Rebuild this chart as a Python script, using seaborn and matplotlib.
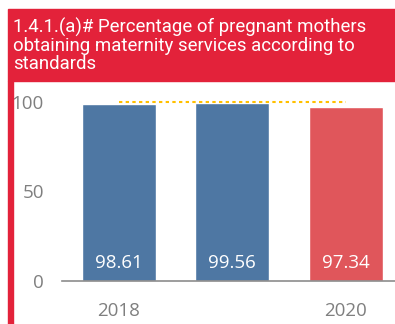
import matplotlib
matplotlib.use("Agg")
import matplotlib.pyplot as plt
from matplotlib.patches import Rectangle
import seaborn as sns
import pandas as pd

# Indicator data
years = ["2018", "2019", "2020"]
values = [98.61, 99.56, 97.34]
target = 100
year_labels = ["2018", "", "2020"]
bar_colors = ["#4E77A3", "#4E77A3", "#E0565B"]
y_ticks = [0, 50, 100]

title = "1.4.1.(a)# Percentage of pregnant mothers\nobtaining maternity services according to\nstandards"

sns.set_theme(style="white")
plt.rcParams["font.family"] = ["Open Sans", "DejaVu Sans"]

W, H = 395, 324
fig = plt.figure(figsize=(W / 100, H / 100), dpi=100)
fig.patch.set_facecolor("white")

RED = "#E3223A"
# header band and left border
fig.patches.append(Rectangle((8 / W, (H - 81) / H), (W - 8) / W, 72 / H,
                             transform=fig.transFigure, color=RED, zorder=0))
fig.patches.append(Rectangle((8 / W, 0), 5 / W, (H - 81) / H,
                             transform=fig.transFigure, color=RED, zorder=0))
fig.text(13 / W, 1 - 18 / H, title, color="white", fontsize=13.4,
         family=["Roboto", "DejaVu Sans"], va="top", ha="left",
         linespacing=1.01)

# axes: y=0 at 281px, 179px per 100 units
ax_bottom = 281
ymax = 105
ax_h = 179 * ymax / 100
ax = fig.add_axes([62 / W, (H - ax_bottom) / H, 340.5 / W, ax_h / H])

df = pd.DataFrame({"year": years, "value": values})
sns.barplot(data=df, x="year", y="value", hue="year", palette=bar_colors,
            width=0.65, legend=False, ax=ax, saturation=1)

ax.plot([0, len(years) - 1], [target, target], color="#FFC000", lw=1.5,
        dashes=(1.6, 1.6), zorder=3)

for i, v in enumerate(values):
    ax.text(i, 10, f"{v:.2f}", color="white", ha="center", va="center",
            fontsize=13.5)

ax.set_xlim(-0.5, len(years) - 0.5)
ax.set_ylim(0, ymax)
ax.set_yticks(y_ticks)
ax.set_yticklabels([str(t) for t in y_ticks])
ax.tick_params(axis="y", length=0, pad=13, labelsize=13.5, labelcolor="#7F7F7F")

ax.set_xticks([-0.5, 0.5, 1.5, 2.5])
ax.set_xticklabels([])
ax.set_xticks(range(len(years)), minor=True)
ax.set_xticklabels(year_labels, minor=True)
ax.tick_params(axis="x", which="major", length=5, width=1.2, color="#8C8C8C",
               direction="out")
ax.tick_params(axis="x", which="minor", length=0, pad=15, labelsize=13.5,
               labelcolor="#7F7F7F")

ax.set_xlabel("")
ax.set_ylabel("")
for s in ["left", "top", "right"]:
    ax.spines[s].set_visible(False)
ax.spines["bottom"].set_color("#8C8C8C")
ax.spines["bottom"].set_linewidth(1.2)
ax.set_facecolor("none")

fig.savefig("out.png", dpi=100)
